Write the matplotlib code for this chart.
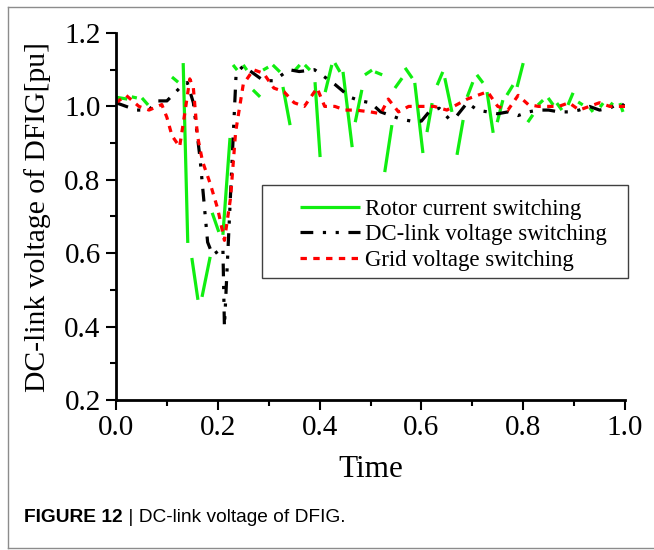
import numpy as np
import matplotlib
matplotlib.use('Agg')
import matplotlib.pyplot as plt
from matplotlib.lines import Line2D
from matplotlib.patches import Rectangle
from matplotlib.ticker import MultipleLocator

# rotor current switching: visible pieces of the green trace (start -> end)
green_x0 = [0.0, 0.031, 0.051, 0.110, 0.132, 0.149, 0.169, 0.189, 0.210, 0.230,
            0.250, 0.269, 0.289, 0.308, 0.328, 0.352, 0.371, 0.391, 0.411, 0.430,
            0.446, 0.470, 0.489, 0.509, 0.528, 0.548, 0.568, 0.587, 0.611, 0.631,
            0.646, 0.670, 0.690, 0.709, 0.729, 0.749, 0.768, 0.788, 0.809, 0.829,
            0.849, 0.866, 0.888, 0.908, 0.931, 0.951, 0.970, 0.990]
green_x1 = [0.022, 0.041, 0.063, 0.122, 0.141, 0.161, 0.185, 0.202, 0.224, 0.238,
            0.257, 0.283, 0.299, 0.322, 0.342, 0.361, 0.381, 0.401, 0.424, 0.440,
            0.464, 0.483, 0.503, 0.523, 0.542, 0.562, 0.582, 0.603, 0.621, 0.642,
            0.660, 0.682, 0.701, 0.721, 0.741, 0.760, 0.780, 0.800, 0.819, 0.839,
            0.859, 0.876, 0.898, 0.917, 0.937, 0.957, 0.976, 0.996]
green_y0 = [1.025, 1.026, 1.023, 1.080, 1.118, 0.587, 0.481, 0.710, 0.650, 1.113,
            1.113, 1.045, 1.099, 1.113, 1.053, 1.099, 1.113, 1.066, 1.039, 1.118,
            1.094, 0.957, 1.086, 1.094, 0.821, 1.050, 1.105, 1.064, 0.930, 1.058,
            1.077, 0.868, 1.026, 1.086, 1.039, 0.957, 1.031, 1.053, 0.957, 1.004,
            1.023, 1.009, 1.004, 1.012, 0.996, 0.998, 1.000, 1.009]
green_y1 = [1.020, 1.023, 1.004, 1.066, 0.628, 0.473, 0.590, 0.658, 0.914, 1.099,
            1.099, 1.026, 1.107, 1.094, 0.949, 1.113, 1.099, 0.862, 1.113, 1.094,
            0.889, 1.045, 1.099, 1.086, 0.949, 1.077, 1.077, 0.873, 1.009, 1.094,
            0.985, 0.963, 1.066, 1.064, 0.928, 1.017, 1.058, 1.118, 0.977, 1.017,
            1.004, 0.990, 1.037, 1.004, 0.985, 1.009, 1.010, 0.985]

# DC-link voltage switching
black_x = [0.0, 0.02, 0.04, 0.065, 0.08, 0.10, 0.125, 0.14, 0.152, 0.165, 0.18,
           0.19, 0.21, 0.213, 0.236, 0.25, 0.27, 0.29, 0.31, 0.34, 0.36, 0.39,
           0.41, 0.43, 0.46, 0.48, 0.50, 0.52, 0.54, 0.56, 0.58, 0.60, 0.615,
           0.635, 0.655, 0.67, 0.69, 0.71, 0.73, 0.75, 0.77, 0.79, 0.81, 0.83,
           0.85, 0.87, 0.89, 0.91, 0.93, 0.95, 0.97, 0.99, 1.0]
black_y = [1.01, 1.0, 0.99, 0.99, 1.015, 1.015, 1.05, 1.065, 1.01, 0.86, 0.63,
           0.595, 0.615, 0.40, 1.09, 1.11, 1.09, 1.07, 1.07, 1.10, 1.095, 1.10,
           1.08, 1.06, 1.025, 1.015, 1.01, 0.985, 0.975, 0.965, 0.96, 0.96, 0.985,
           0.995, 0.965, 0.975, 1.01, 0.99, 0.985, 0.98, 0.985, 0.975, 0.985, 0.99,
           0.99, 0.985, 0.985, 0.99, 1.0, 0.99, 0.995, 1.01, 1.0]

# grid voltage switching
red_x = [0.0, 0.02, 0.045, 0.065, 0.09, 0.10, 0.11, 0.125, 0.135, 0.145, 0.152,
         0.16, 0.17, 0.185, 0.20, 0.213, 0.225, 0.235, 0.25, 0.27, 0.29, 0.31,
         0.33, 0.35, 0.37, 0.395, 0.41, 0.43, 0.45, 0.47, 0.50, 0.52, 0.535,
         0.555, 0.575, 0.60, 0.625, 0.65, 0.67, 0.69, 0.71, 0.73, 0.75, 0.77,
         0.79, 0.81, 0.83, 0.85, 0.87, 0.89, 0.91, 0.93, 0.95, 0.97, 1.0]
red_y = [1.01, 1.03, 1.0, 0.99, 1.005, 0.97, 0.92, 0.89, 0.98, 1.075, 1.05,
         0.92, 0.85, 0.79, 0.72, 0.635, 0.75, 0.93, 1.06, 1.10, 1.09, 1.05,
         1.04, 1.01, 1.0, 1.05, 1.0, 1.0, 0.99, 0.99, 0.985, 0.98, 1.02,
         0.985, 1.0, 1.0, 1.0, 0.99, 1.005, 1.02, 1.03, 1.04, 1.0, 0.99,
         1.03, 1.005, 1.0, 1.0, 1.0, 1.01, 0.99, 1.0, 1.01, 1.0, 1.0]

labels = ['Rotor current switching', 'DC-link voltage switching', 'Grid voltage switching']
xticks = [0.0, 0.2, 0.4, 0.6, 0.8, 1.0]
yticks = [0.2, 0.4, 0.6, 0.8, 1.0, 1.2]

serif = 'Liberation Serif'

fig = plt.figure(figsize=(6.54, 5.5), dpi=100)
ax = fig.add_axes([116 / 654, 1 - 400 / 550, 509 / 654, 367 / 550])

# green pieces joined with NaN breaks
n = len(green_x0)
gx = np.column_stack([green_x0, green_x1, np.full(n, np.nan)]).ravel()
gy = np.column_stack([green_y0, green_y1, np.full(n, np.nan)]).ravel()

lw = 2.3
ax.plot(gx, gy, color='#10ee10', lw=lw, solid_capstyle='butt', label=labels[0])
ax.plot(black_x, black_y, color='black', lw=lw, dashes=(4, 3, 1, 3, 1, 3),
        dash_capstyle='butt', label=labels[1])
ax.plot(red_x, red_y, color='#ff0000', lw=lw, dashes=(2, 2),
        dash_capstyle='butt', label=labels[2])

ax.set_xlim(0, 1.0)
ax.set_ylim(0.2, 1.2)
ax.set_xticks(xticks)
ax.set_yticks(yticks)
ax.set_xticklabels([f'{v:.1f}' for v in xticks])
ax.set_yticklabels([f'{v:.1f}' for v in yticks])
ax.xaxis.set_minor_locator(MultipleLocator(0.1))
ax.yaxis.set_minor_locator(MultipleLocator(0.1))

for s in ['top', 'right']:
    ax.spines[s].set_visible(False)
for s in ['left', 'bottom']:
    ax.spines[s].set_linewidth(2)

ax.tick_params(which='major', direction='out', length=7, width=1.5, pad=4,
               labelsize=21)
ax.tick_params(which='minor', direction='out', length=4, width=1.5)
for lab in ax.get_xticklabels() + ax.get_yticklabels():
    lab.set_fontfamily(serif)

ax.set_xlabel('Time', fontsize=22.5, family=serif)
ax.set_ylabel('DC-link voltage of DFIG[pu]', fontsize=21.3, family=serif)
ax.xaxis.set_label_coords(0.5, -0.15)
ax.yaxis.set_label_coords(-0.128, 0.5)

# legend with its own frame
frame = Rectangle((0.287, 0.332), 0.719, 0.254, transform=ax.transAxes,
                  fill=False, edgecolor='#404040', lw=1.0, clip_on=False)
ax.add_patch(frame)
ax.legend(loc='upper left', bbox_to_anchor=(0.3615, 0.549), frameon=False,
          borderpad=0, borderaxespad=0, handlelength=2.63, handletextpad=0.22,
          labelspacing=0.21, prop={'family': serif, 'size': 16.4})

# caption
t1 = fig.text(24 / 654, 1 - 518 / 550, 'FIGURE 12', fontsize=13.8,
              family='Liberation Sans', weight='bold', va='center')
ax.annotate(' | DC-link voltage of DFIG.', xy=(1, 0.5), xycoords=t1,
            va='center', ha='left', fontsize=13.8, family='Liberation Sans',
            annotation_clip=False)

# outer border
bc = '#8c8c8c'
fig.add_artist(Line2D([8 / 654, 8 / 654], [1 - 7 / 550, 1 - 548 / 550], color=bc, lw=1))
fig.add_artist(Line2D([8 / 654, 1.0], [1 - 7 / 550, 1 - 7 / 550], color=bc, lw=1))
fig.add_artist(Line2D([8 / 654, 1.0], [1 - 548 / 550, 1 - 548 / 550], color=bc, lw=1))

fig.savefig('out.png', dpi=100)
